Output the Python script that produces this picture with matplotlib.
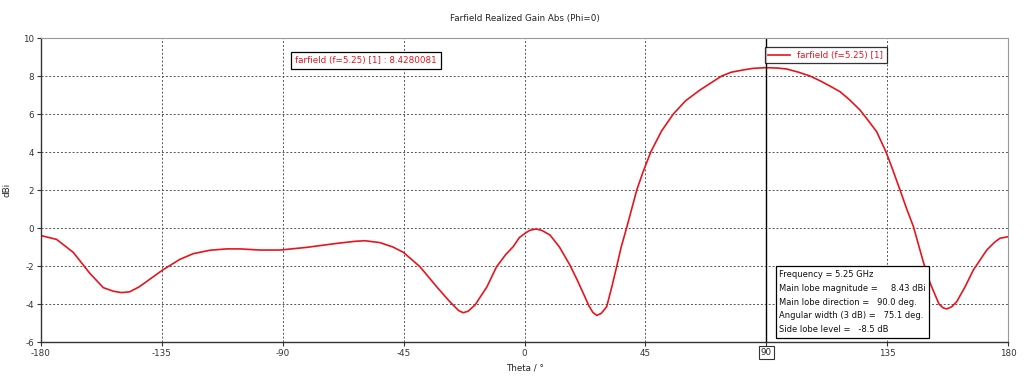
import numpy as np
import matplotlib.pyplot as plt

# Farfield gain cut
theta = [-180, -174.2, -168, -161.8, -156.8, -153, -150, -147, -143.5, -140.7,
         -134.7, -128.3, -123.3, -117.1, -110.9, -105.9, -98.5, -91, -81.1, -69.9,
         -63, -59.4, -53.8, -49, -45.1, -38.9, -32.7, -28, -24.5, -22.8,
         -21, -18.4, -14, -10.4, -7, -4.2, -1.9, 0.2, 2, 4.3,
         6.5, 9.5, 13, 16.9, 19.5, 21.9, 24, 25.5, 26.9, 28.5,
         30.6, 32.5, 34.3, 36, 38.0, 41.8, 44, 47, 51, 55.4,
         60, 65.3, 69, 73.4, 77, 81.5, 85, 89.8, 94, 97.6,
         102, 106.3, 110, 114, 117.5, 121, 124.9, 128, 131.1, 134.6,
         137, 139.8, 142.3, 144.8, 148.5, 151, 154.3, 155.8, 157.2, 159,
         160.9, 164, 167.1, 170, 172.1, 175, 177, 180]
gain = [-0.4, -0.6, -1.28, -2.39, -3.14, -3.33, -3.4, -3.36, -3.1, -2.82,
        -2.21, -1.65, -1.35, -1.17, -1.1, -1.1, -1.16, -1.16, -1.02, -0.81,
        -0.7, -0.67, -0.77, -1.0, -1.28, -2.04, -3.09, -3.85, -4.35, -4.46,
        -4.38, -4.05, -3.1, -2.04, -1.4, -0.98, -0.5, -0.28, -0.12, -0.05,
        -0.13, -0.37, -1.0, -1.95, -2.7, -3.44, -4.1, -4.45, -4.6, -4.5,
        -4.14, -3.1, -2.04, -1.0, 0.0, 2.0, 2.9, 4.0, 5.1, 6.0,
        6.7, 7.26, 7.6, 8.0, 8.2, 8.32, 8.4, 8.44, 8.42, 8.37,
        8.2, 8.0, 7.75, 7.45, 7.17, 6.75, 6.21, 5.65, 5.07, 4.0,
        3.1, 2.0, 1.0, 0.07, -1.8, -2.9, -4.0, -4.2, -4.26, -4.15,
        -3.88, -3.1, -2.21, -1.6, -1.16, -0.75, -0.54, -0.46]

xticks = [-180, -135, -90, -45, 0, 45, 90, 135, 180]
yticks = [-6, -4, -2, 0, 2, 4, 6, 8, 10]
marker_theta = 90
label = "farfield (f=5.25) [1]"
info = ["Frequency = 5.25 GHz",
        "Main lobe magnitude =     8.43 dBi",
        "Main lobe direction =   90.0 deg.",
        "Angular width (3 dB) =   75.1 deg.",
        "Side lobe level =   -8.5 dB"]

plt.rcParams['font.family'] = ['DejaVu Sans']
fs = 6.3

fig = plt.figure(figsize=(10.24, 3.81), dpi=100)
ax = fig.add_axes([41 / 1024, 1 - 342 / 381, 967 / 1024, 304 / 381])

ax.plot(theta, gain, color='#e8141c', lw=1.2, label=label)
ax.axvline(marker_theta, color='black', lw=1.0)

ax.set_xlim(-180, 180)
ax.set_ylim(-6, 10)
ax.set_xticks(xticks)
ax.set_yticks(yticks)
ax.set_xticklabels([str(t) if t != marker_theta else '' for t in xticks], fontsize=fs)
ax.set_yticklabels([str(t) for t in yticks], fontsize=fs)
ax.tick_params(direction='out', length=3, width=0.8, colors='#333333', pad=2)
ax.grid(True, color='#555555', linestyle=(0, (2, 2)), lw=0.7)

for side in ['top', 'right']:
    ax.spines[side].set_color('#999999')
    ax.spines[side].set_linewidth(0.8)
for side in ['left', 'bottom']:
    ax.spines[side].set_color('#333333')
    ax.spines[side].set_linewidth(1.0)

# boxed marker label under the axis
ax.text(marker_theta, -6.55, str(marker_theta), ha='center', va='center', fontsize=fs,
        color='#222222', bbox=dict(boxstyle='square,pad=0.25', fc='white', ec='#333333', lw=0.8))

ax.set_title("Farfield Realized Gain Abs (Phi=0)", fontsize=fs, color='#222222', pad=12)
ax.set_xlabel("Theta / °", fontsize=fs, color='#222222', labelpad=4)
ax.set_ylabel("dBi", fontsize=fs, color='#222222', labelpad=8)

leg = ax.legend(loc='upper left', bbox_to_anchor=(0.7487, 0.97), borderaxespad=0,
                fontsize=fs, frameon=True, fancybox=False, borderpad=0.4,
                handlelength=2.5, labelcolor='#e8141c')
leg.get_frame().set_edgecolor('black')
leg.get_frame().set_linewidth(0.9)

ax.text(-85.4, 8.8, f"{label} : 8.4280081", fontsize=fs, color='#e8141c',
        ha='left', va='center',
        bbox=dict(boxstyle='square,pad=0.45', fc='white', ec='black', lw=0.9))

ax.text(94.8, -5.6, "\n".join(info), fontsize=6.0, color='#111111', ha='left', va='bottom',
        linespacing=1.7,
        bbox=dict(boxstyle='square,pad=0.4', fc='white', ec='black', lw=0.9))

fig.savefig("out.png", dpi=100)
